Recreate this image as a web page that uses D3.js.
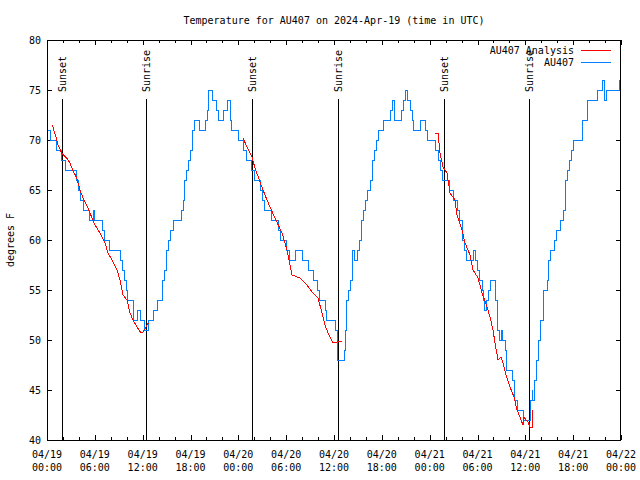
<!DOCTYPE html>
<html>
<head>
<meta charset="utf-8">
<script src="https://cdn.jsdelivr.net/npm/d3@7"></script>
<style>
  html, body { margin: 0; padding: 0; background: #fff; }
  svg { display: block; }
  text { font-family: "DejaVu Sans Mono", monospace; font-size: 10px; fill: #000; }
</style>
</head>
<body>
<svg id="chart" width="640" height="480"></svg>
<script>
// ---- data (hours since 2024-04-19 00:00 UTC, degrees F) ----
const title = "Temperature for AU407 on 2024-Apr-19 (time in UTC)";
const yLabel = "degrees F";
const seriesNames = ["AU407 Analysis", "AU407"];
const xTickDays = ["04/19", "04/19", "04/19", "04/19", "04/20", "04/20", "04/20", "04/20", "04/21", "04/21", "04/21", "04/21", "04/22"];
const xTickTimes = ["00:00", "06:00", "12:00", "18:00", "00:00", "06:00", "12:00", "18:00", "00:00", "06:00", "12:00", "18:00", "00:00"];
const yTicks = [40, 45, 50, 55, 60, 65, 70, 75, 80];
const sunEvents = [
  { t: 1.84, label: "Sunset" }, { t: 12.42, label: "Sunrise" },
  { t: 25.76, label: "Sunset" }, { t: 36.55, label: "Sunrise" },
  { t: 49.80, label: "Sunset" }, { t: 60.50, label: "Sunrise" }
];
const observed = [
  [0,71],[0.38,70],[1.13,69],[1.88,68],[2.38,67],[3.64,66],[3.89,65],[4.14,64],[4.52,63],[5.39,62],[5.77,63],[5.90,62],
  [7.02,61],[7.15,60],[7.90,59],[9.16,58],[9.41,57],[9.66,56],[9.91,55],[10.04,54],[10.79,53],[10.85,52],[11.29,53],
  [11.79,52],[12.29,51],[12.67,52],[13.30,53],[13.92,54],[14.55,56],[14.80,57],[15.05,59],[15.30,60],[15.55,61],[15.81,62],
  [16.81,63],[17.06,64],[17.31,66],[17.44,67],[17.69,68],[17.94,69],[18.19,70],[18.31,71],[18.56,72],[19.19,71],[19.82,72],
  [20.07,73],[20.20,74],[20.32,75],[20.82,74],[21.20,73],[21.45,72],[22.08,73],[22.58,74],[22.96,73],[23.08,72],[23.20,71],
  [24.08,70],[24.71,69],[25.00,68],[25.71,67],[26.09,66],[26.72,65],[27.09,64],[27.34,63],[28.22,62],[28.98,61],[29.23,60],
  [29.98,59],[30.48,58],[31.23,59],[32.11,58],[32.74,57],[33.37,56],[33.87,55],[34.12,54],[34.99,53],[35.12,52],[36.25,51],
  [36.38,50],[36.44,48],[37.26,49],[37.38,51],[37.51,53],[37.63,54],[37.76,55],[38.01,56],[38.26,57],[38.38,59],[38.63,58],
  [38.89,59],[39.14,60],[39.39,61],[39.51,62],[39.76,63],[39.89,64],[40.26,65],[40.52,66],[40.89,68],[41.14,69],[41.39,70],
  [41.52,71],[42.15,72],[43.03,73],[43.40,74],[43.53,72],[44.41,73],[44.66,74],[44.91,75],[45.28,74],[45.54,73],[45.79,72],
  [45.91,71],[46.79,72],[47.42,71],[47.67,70],[48.67,69],[49.05,68],[49.30,67],[49.67,66],[50.55,65],[50.93,64],[51.43,63],
  [51.68,62],[52.06,61],[52.18,60],[52.43,59],[52.68,58],[53.44,59],[53.69,58],[53.94,57],[54.19,56],[54.57,55],[54.69,54],
  [54.94,53],[55.19,54],[55.32,55],[55.57,56],[56.20,54],[56.45,53],[56.57,51],[56.82,50],[57.07,51],[57.19,50],[57.45,49],
  [57.70,47],[58.45,46],[58.70,44],[58.96,43],[59.83,42],[60.59,44],[60.84,45],[60.96,44],[61.21,46],[61.46,48],[61.59,50],
  [61.84,52],[62.22,54],[62.34,55],[62.72,56],[62.85,58],[63.10,59],[63.72,60],[63.97,61],[64.35,62],[64.85,63],[64.98,64],
  [65.10,66],[65.35,67],[65.60,68],[65.73,69],[65.98,70],[67.23,72],[67.74,74],[68.99,75],[69.74,76],[69.87,74],[70.12,75],
  [71.75,76],[71.87,76]
];
const analysis1 = [
  [0.66,71.5],[1.13,70.3],[1.38,69.5],[1.84,68.7],[2.47,68.2],[2.89,67.7],[3.22,67],[3.73,66.2],[4.14,65],[4.52,64.2],
  [4.98,63.5],[5.39,62.7],[6.02,61.5],[6.65,60.7],[7.28,59.7],[7.65,58.7],[8.15,58],[8.78,57],[9.16,56],[9.53,54.5],
  [10.04,54],[10.41,52.7],[10.79,52],[11.29,51.3],[11.79,50.7],[12.04,50.8],[12.42,51.3],[12.67,51.7],[12.79,51.7]
];
const analysis2 = [
  [24.59,70.2],[25.09,69.3],[25.71,68.3],[26.09,67.2],[26.72,65.8],[27.34,64.5],[27.97,63.3],[28.60,62.2],[29.48,60.7],
  [30.11,59],[30.36,58],[30.73,56.5],[31.74,56.2],[32.61,55.5],[33.24,54.8],[33.99,54.2],[34.50,52.7],[34.87,51.5],
  [35.25,50.7],[35.88,49.7],[36.38,49.8],[37.00,49.9]
];
const analysis3 = [
  [48.67,70.7],[49.05,70.7],[49.30,68.7],[49.67,67.3],[50.18,66.7],[50.55,64.7],[51.18,64],[51.43,62.5],[52.06,61],
  [52.43,59.7],[52.81,59],[53.06,58.5],[53.44,57],[54.07,56.2],[54.57,54.7],[55.19,53.3],[55.57,52.3],[55.94,51],
  [56.20,49.7],[56.57,48],[56.95,48.3],[57.19,47.7],[57.58,46.5],[58.08,45.3],[58.58,44.3],[58.96,43],[59.33,42.3],
  [59.70,41.5],[59.83,42.3],[60.08,42],[60.33,41.8],[60.59,41.3],[60.84,41.2],[60.96,43]
];

// ---- drawing ----
const svg = d3.select("#chart");
const L = 47, R = 621, T = 40, B = 440;
const x = d3.scaleLinear().domain([0, 72]).range([L, R]);
const y = d3.scaleLinear().domain([40, 80]).range([B, T]);
const redC = "#ff0000", blueC = "#0080ff";

// title
svg.append("text").attr("x", (L + R) / 2).attr("y", 24).attr("text-anchor", "middle").text(title);
// y label
svg.append("text").attr("transform", `translate(14,${(T + B) / 2}) rotate(-90)`)
  .attr("text-anchor", "middle").text(yLabel);

const g = svg.append("g");

// ticks (inward) via axes
const majorX = d3.range(0, 73, 6), minorX = d3.range(0, 73, 2).filter(v => v % 6 !== 0);
function tickAxes(axisGen, vals, size, transform) {
  const a = g.append("g").attr("transform", transform)
    .call(axisGen.tickValues(vals).tickSize(size).tickFormat(""));
  a.select(".domain").remove();
  a.selectAll("line").attr("stroke", "#000").attr("shape-rendering", "crispEdges");
}
tickAxes(d3.axisTop(x), majorX, 5, `translate(0,${B})`);
tickAxes(d3.axisTop(x), minorX, 3, `translate(0,${B})`);
tickAxes(d3.axisBottom(x), majorX, 5, `translate(0,${T})`);
tickAxes(d3.axisBottom(x), minorX, 3, `translate(0,${T})`);
tickAxes(d3.axisRight(y), yTicks, 5, `translate(${L},0)`);
tickAxes(d3.axisLeft(y), yTicks, 5, `translate(${R},0)`);

// x tick labels
majorX.forEach((v, i) => {
  const t = g.append("text").attr("x", x(v)).attr("text-anchor", "middle");
  t.append("tspan").attr("x", x(v)).attr("y", 458).text(xTickDays[i]);
  t.append("tspan").attr("x", x(v)).attr("y", 471).text(xTickTimes[i]);
});
// y tick labels
yTicks.forEach(v => {
  g.append("text").attr("x", 41).attr("y", y(v)).attr("dy", "0.35em")
    .attr("text-anchor", "end").text(v);
});

// sunrise/sunset lines
sunEvents.forEach(e => {
  const xx = Math.round(x(e.t)) + 0.5;
  g.append("line").attr("x1", xx).attr("x2", xx).attr("y1", 99).attr("y2", B)
    .attr("stroke", "#000").attr("stroke-width", 1).attr("shape-rendering", "crispEdges");
  g.append("text").attr("transform", `translate(${xx},92) rotate(-90)`)
    .attr("dy", "0.35em").attr("text-anchor", "start").text(e.label);
});

// series
const lineLin = d3.line().x(d => x(d[0])).y(d => y(d[1]));
const lineStep = d3.line().x(d => x(d[0])).y(d => y(d[1])).curve(d3.curveStepAfter);
g.append("path").attr("d", lineStep(observed)).attr("fill", "none")
  .attr("stroke", blueC).attr("stroke-width", 1).attr("shape-rendering", "crispEdges");
[analysis1, analysis2, analysis3].forEach(s => {
  g.append("path").attr("d", lineLin(s)).attr("fill", "none")
    .attr("stroke", redC).attr("stroke-width", 1).attr("shape-rendering", "crispEdges");
});

// frame
g.append("rect").attr("x", L + 0.5).attr("y", T + 0.5).attr("width", R - L - 1).attr("height", B - T)
  .attr("fill", "none").attr("stroke", "#000").attr("shape-rendering", "crispEdges");

// legend
const legend = [{ name: seriesNames[0], c: redC, yy: 50 }, { name: seriesNames[1], c: blueC, yy: 62 }];
legend.forEach(l => {
  g.append("text").attr("x", 574).attr("y", l.yy).attr("dy", "0.35em").attr("text-anchor", "end").text(l.name);
  g.append("line").attr("x1", 581).attr("x2", 611).attr("y1", l.yy + 0.5).attr("y2", l.yy + 0.5)
    .attr("stroke", l.c).attr("stroke-width", 1).attr("shape-rendering", "crispEdges");
});
</script>
</body>
</html>
